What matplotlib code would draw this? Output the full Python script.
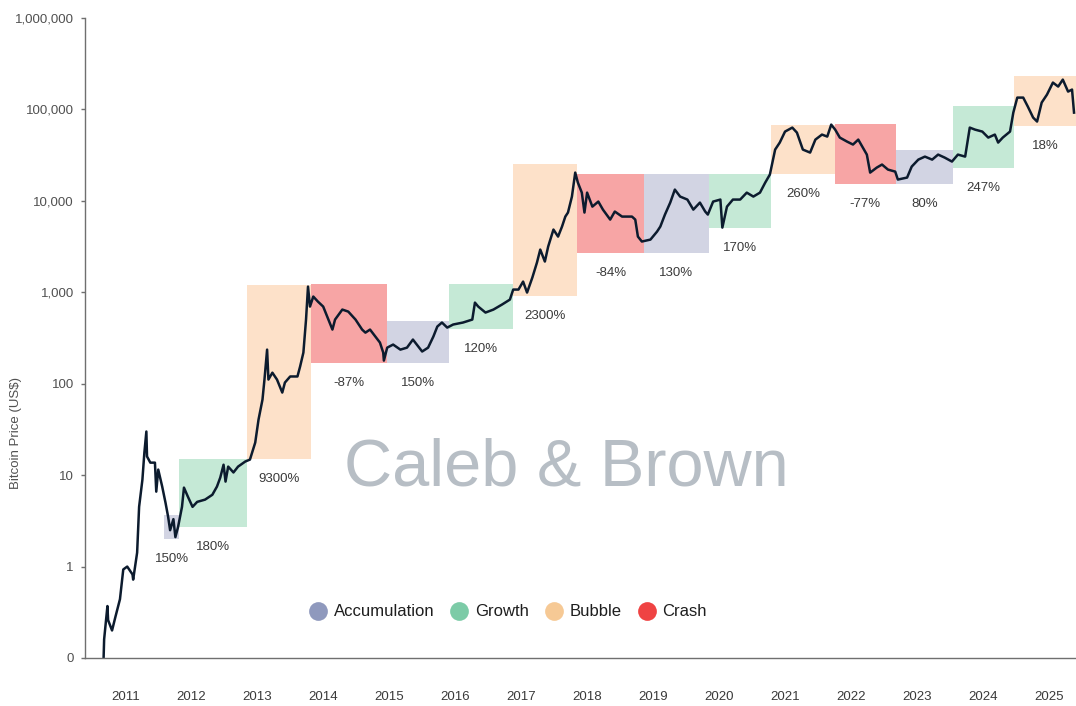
import matplotlib
matplotlib.use("Agg")
import matplotlib.pyplot as plt
from matplotlib.lines import Line2D
from matplotlib.patches import Rectangle

# ---------------- data ----------------
price_years = [
    2010.82, 2010.83, 2010.88, 2010.89, 2010.95, 2011.00, 2011.07, 2011.12, 2011.18, 2011.26,
    2011.27, 2011.33, 2011.36, 2011.41, 2011.44, 2011.47, 2011.48, 2011.53, 2011.60, 2011.62,
    2011.65, 2011.71, 2011.76, 2011.80, 2011.83, 2011.88, 2011.91, 2011.95,
    2012.01, 2012.04, 2012.10, 2012.17, 2012.24, 2012.36, 2012.47, 2012.54, 2012.59, 2012.64,
    2012.67, 2012.71, 2012.79, 2012.86, 2012.97,
    2013.04, 2013.12, 2013.17, 2013.23, 2013.26, 2013.30, 2013.32, 2013.38, 2013.45, 2013.53,
    2013.57, 2013.65, 2013.76, 2013.80, 2013.85, 2013.89, 2013.92, 2013.95,
    2014.00, 2014.07, 2014.15, 2014.23, 2014.29, 2014.33, 2014.44, 2014.53, 2014.64, 2014.74,
    2014.79, 2014.86, 2014.94,
    2015.01, 2015.06, 2015.07, 2015.12, 2015.21, 2015.32, 2015.42, 2015.51, 2015.65, 2015.74,
    2015.82, 2015.88, 2015.95,
    2016.03, 2016.12, 2016.27, 2016.41, 2016.45, 2016.50, 2016.61, 2016.73, 2016.86, 2016.98,
    2017.03, 2017.11, 2017.18, 2017.24, 2017.32, 2017.39, 2017.44, 2017.51, 2017.56, 2017.64,
    2017.71, 2017.77, 2017.82, 2017.86, 2017.92, 2017.97,
    2018.01, 2018.07, 2018.11, 2018.15, 2018.23, 2018.32, 2018.39, 2018.50, 2018.57, 2018.68,
    2018.83, 2018.88, 2018.92, 2018.98,
    2019.11, 2019.21, 2019.26, 2019.33, 2019.41, 2019.48, 2019.56, 2019.67, 2019.76, 2019.86,
    2019.94, 2019.98,
    2020.06, 2020.17, 2020.20, 2020.27, 2020.36, 2020.47, 2020.57, 2020.67, 2020.77, 2020.85,
    2020.92,
    2021.00, 2021.07, 2021.15, 2021.26, 2021.33, 2021.42, 2021.53, 2021.61, 2021.71, 2021.79,
    2021.85, 2021.91, 2021.98,
    2022.09, 2022.18, 2022.26, 2022.32, 2022.39, 2022.44, 2022.54, 2022.62, 2022.71, 2022.82,
    2022.86,
    2023.00, 2023.07, 2023.17, 2023.27, 2023.38, 2023.47, 2023.57, 2023.68, 2023.77, 2023.88,
    2023.95,
    2024.03, 2024.14, 2024.23, 2024.33, 2024.38, 2024.45, 2024.56, 2024.61, 2024.67, 2024.76,
    2024.83, 2024.91, 2024.97,
    2025.04, 2025.12, 2025.21, 2025.29, 2025.36, 2025.44, 2025.50, 2025.53,
]
price_usd = [
    0.09, 0.16, 0.37, 0.26, 0.20, 0.28, 0.44, 0.93, 1.0, 0.82,
    0.72, 1.42, 4.5, 8.9, 17.7, 30, 16, 13.7, 13.7, 6.6,
    11.5, 7.5, 5.0, 3.5, 2.5, 3.3, 2.1, 2.7,
    4.5, 7.3, 5.8, 4.5, 5.1, 5.4, 6.1, 7.5, 9.4, 13.0,
    8.5, 12.4, 10.7, 12.4, 14.1,
    14.8, 22.7, 40.5, 67, 111, 236, 111, 132, 111, 80,
    103, 120, 120, 154, 219, 503, 1154, 698,
    898, 791, 698, 503, 391, 503, 647, 615, 503, 391,
    362, 391, 328,
    282, 219, 179, 248, 268, 236, 248, 304, 225, 248,
    328, 422, 467,
    411, 444, 467, 503, 771, 698, 600, 647, 734, 832,
    1071, 1071, 1309, 993, 1448, 2114, 2933, 2168, 3162, 4853,
    4066, 5236, 6730, 7447, 11140, 20370,
    15850, 12300, 7447, 12300, 8650, 9820, 8020, 6240, 7640, 6730,
    6730, 6240, 4066, 3590,
    3770, 4610, 5236, 7080, 9570, 13280, 11140, 10330, 8020, 9570,
    7640, 7080,
    9820, 10330, 5100, 8650, 10330, 10330, 12300, 11140, 12300, 15850,
    19380,
    36380, 43400, 57250, 63280, 55800, 36380, 33730, 46770, 53080, 50470,
    68230, 60120, 49220,
    44470, 41300, 46770, 39260, 32060, 20370, 23110, 24950, 21980, 20890,
    17100,
    17980, 23710, 28250, 30480, 28250, 32060, 29720, 26900, 32060, 30480,
    63280,
    60120, 57250, 49220, 53080, 43400, 49220, 57250, 92300, 134700, 134700,
    107400, 81500, 73680,
    118900, 145200, 196600, 177800, 211900, 156700, 164900, 92300,
]
assert len(price_years) == len(price_usd)

phase_start = [2011.74, 2011.97, 2013.00, 2013.97, 2015.12, 2016.06, 2017.03, 2018.00,
               2019.01, 2020.00, 2020.94, 2021.90, 2022.83, 2023.70, 2024.62]
phase_end = [2011.97, 2013.00, 2013.97, 2015.12, 2016.06, 2017.03, 2018.00, 2019.01,
             2020.00, 2020.94, 2021.90, 2022.83, 2023.70, 2024.62, 2025.56]
phase_low = [2.02, 2.74, 15.2, 170, 170, 401, 920, 2718,
             2718, 5100, 19870, 15450, 15450, 23100, 66530]
phase_high = [3.7, 15.2, 1214, 1245, 490, 1245, 25570, 19870,
              19870, 19870, 68230, 70000, 36380, 110200, 234400]
phase_kind = ["Accumulation", "Growth", "Bubble", "Crash", "Accumulation", "Growth",
              "Bubble", "Crash", "Accumulation", "Growth", "Bubble", "Crash",
              "Accumulation", "Growth", "Bubble"]
phase_change = ["150%", "180%", "9300%", "-87%", "150%", "120%", "2300%", "-84%",
                "130%", "170%", "260%", "-77%", "80%", "247%", "18%"]

legend_labels = ["Accumulation", "Growth", "Bubble", "Crash"]

year_labels = ["2011", "2012", "2013", "2014", "2015", "2016", "2017", "2018",
               "2019", "2020", "2021", "2022", "2023", "2024", "2025"]
y_ticks = [0.1, 1, 10, 100, 1000, 10000, 100000, 1000000]
y_tick_labels = ["0", "1", "10", "100", "1,000", "10,000", "100,000", "1,000,000"]

# ---------------- styles ----------------
fill_colors = {"Accumulation": "#d2d4e3", "Growth": "#c5e9d6",
               "Bubble": "#fde1c9", "Crash": "#f7a5a5"}
marker_colors = {"Accumulation": "#8f99bd", "Growth": "#7ccba7",
                 "Bubble": "#f6c995", "Crash": "#ef4343"}
FONT = ["Liberation Sans", "DejaVu Sans"]

fig = plt.figure(figsize=(10.76, 7.06), dpi=100)
ax = fig.add_axes([85 / 1076, 48 / 706, 991 / 1076, 640 / 706])
ax.set_yscale("log")
ax.set_ylim(0.1, 1e6)
ax.set_xlim(2010.54, 2025.56)

# phase boxes
for s, e, lo, hi, kind, lab in zip(phase_start, phase_end, phase_low, phase_high,
                                   phase_kind, phase_change):
    ax.add_patch(Rectangle((s, lo), e - s, hi - lo, facecolor=fill_colors[kind],
                           edgecolor="none", zorder=1))
    ax.annotate(lab, xy=((s + e) / 2, lo), xytext=(0, -20), textcoords="offset pixels",
                ha="center", va="center", fontsize=9.5, color="#3a3a3a",
                family=FONT, zorder=3)

# price line
ax.plot(price_years, price_usd, color="#0c1b2e", lw=1.8, zorder=2,
        solid_joinstyle="round")

# watermark
fig.text(566 / 1076, 1 - 468 / 706, "Caleb & Brown", fontsize=48, color="#b7bec5",
         ha="center", va="center", family=FONT, zorder=0)

# axes styling
for side in ("top", "right"):
    ax.spines[side].set_visible(False)
for side in ("left", "bottom"):
    ax.spines[side].set_color("#6f6f6f")
    ax.spines[side].set_linewidth(1.0)

ax.set_yticks(y_ticks)
ax.set_yticklabels(y_tick_labels)
ax.yaxis.set_minor_locator(matplotlib.ticker.NullLocator())
ax.tick_params(axis="y", length=3, width=1, color="#6f6f6f", pad=5,
               labelsize=9.5, labelcolor="#505050")
ax.set_xticks([int(y) + 0.15 for y in year_labels])
ax.set_xticklabels(year_labels)
ax.tick_params(axis="x", length=0, pad=24, labelsize=9.5, labelcolor="#3a3a3a")
for t in ax.get_xticklabels() + ax.get_yticklabels():
    t.set_family(FONT)

fig.text(16 / 1076, 1 - 433 / 706, "Bitcoin Price (US$)", rotation=90, ha="center",
         va="center", fontsize=9.5, color="#505050", family=FONT)

# legend
handles = [Line2D([], [], linestyle="", marker="o", markersize=13.5,
                  markerfacecolor=marker_colors[k], markeredgecolor="none")
           for k in legend_labels]
leg = ax.legend(handles, legend_labels, loc="center", bbox_to_anchor=(0.427, 0.072),
                ncol=4, frameon=False, handlelength=1.0, handletextpad=0.45,
                columnspacing=1.0, prop={"family": FONT, "size": 12})
for t in leg.get_texts():
    t.set_color("#1e1e1e")

fig.savefig("out.png", dpi=100, facecolor="white")
